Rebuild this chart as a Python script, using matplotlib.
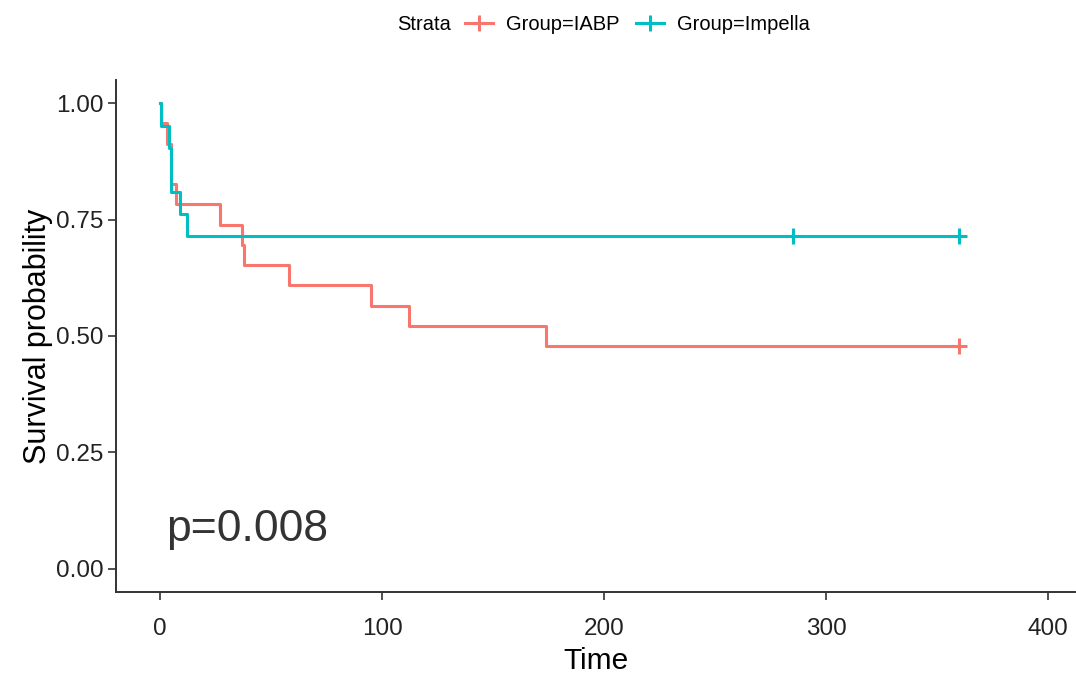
import matplotlib
matplotlib.use("Agg")
import matplotlib.pyplot as plt
from matplotlib.lines import Line2D

plt.rcParams['font.family'] = ['Liberation Sans', 'DejaVu Sans']

# Kaplan-Meier steps
iabp_time = [0, 0.5, 3, 5, 7, 27, 37, 38, 58, 95, 112, 174, 360]
iabp_surv = [1.0, 0.957, 0.913, 0.826, 0.783, 0.739, 0.696, 0.652, 0.609, 0.565, 0.522, 0.478, 0.478]
iabp_cens_t = [360]
iabp_cens_s = [0.478]

imp_time = [0, 0.5, 4, 5, 9, 12, 360]
imp_surv = [1.0, 0.952, 0.905, 0.810, 0.762, 0.714, 0.714]
imp_cens_t = [285, 360]
imp_cens_s = [0.714, 0.714]

red = '#F8766D'
teal = '#00BFC4'

fig = plt.figure(figsize=(10.76, 6.74), dpi=100)
ax = fig.add_axes([0.108, 0.122, 0.891, 0.759])

ax.step(iabp_time, iabp_surv, where='post', color=red, lw=2.2)
ax.step(imp_time, imp_surv, where='post', color=teal, lw=2.2)
ax.plot(iabp_cens_t, iabp_cens_s, ls='none', marker='+', ms=12, mew=2.2, color=red)
ax.plot(imp_cens_t, imp_cens_s, ls='none', marker='+', ms=12, mew=2.2, color=teal)

ax.set_xlim(-19.7, 412)
ax.set_ylim(-0.05, 1.05)
ax.set_xticks([0, 100, 200, 300, 400])
ax.set_yticks([0, 0.25, 0.5, 0.75, 1.0])
ax.set_yticklabels(['0.00', '0.25', '0.50', '0.75', '1.00'])
ax.tick_params(length=6, width=1.2, colors='#333333', labelsize=17.5, labelcolor='#222222')
ax.tick_params(axis='y', pad=3)
ax.tick_params(axis='x', pad=13)
for s in ['top', 'right']:
    ax.spines[s].set_visible(False)
for s in ['left', 'bottom']:
    ax.spines[s].set_linewidth(1.4)
    ax.spines[s].set_color('#333333')

ax.set_xlabel('Time', fontsize=21.5, labelpad=5)
ax.set_ylabel('Survival probability', fontsize=22, labelpad=2)

ax.text(3.0, 0.084, 'p=0.008', fontsize=32, color='#333333', ha='left', va='center')

# legend across the top
fig.text(0.369, 0.963, 'Strata', fontsize=14.5, ha='left', va='center')
handles = [Line2D([], [], color=red, lw=2.2, marker='+', ms=12, mew=2.2),
           Line2D([], [], color=teal, lw=2.2, marker='+', ms=12, mew=2.2)]
fig.legend(handles, ['Group=IABP', 'Group=Impella'], ncol=2, loc='center left',
           bbox_to_anchor=(0.432, 0.963), frameon=False, fontsize=14.5,
           handlelength=1.4, handletextpad=0.65, columnspacing=0.8,
           borderaxespad=0, borderpad=0)

fig.savefig('out.png', dpi=100)
